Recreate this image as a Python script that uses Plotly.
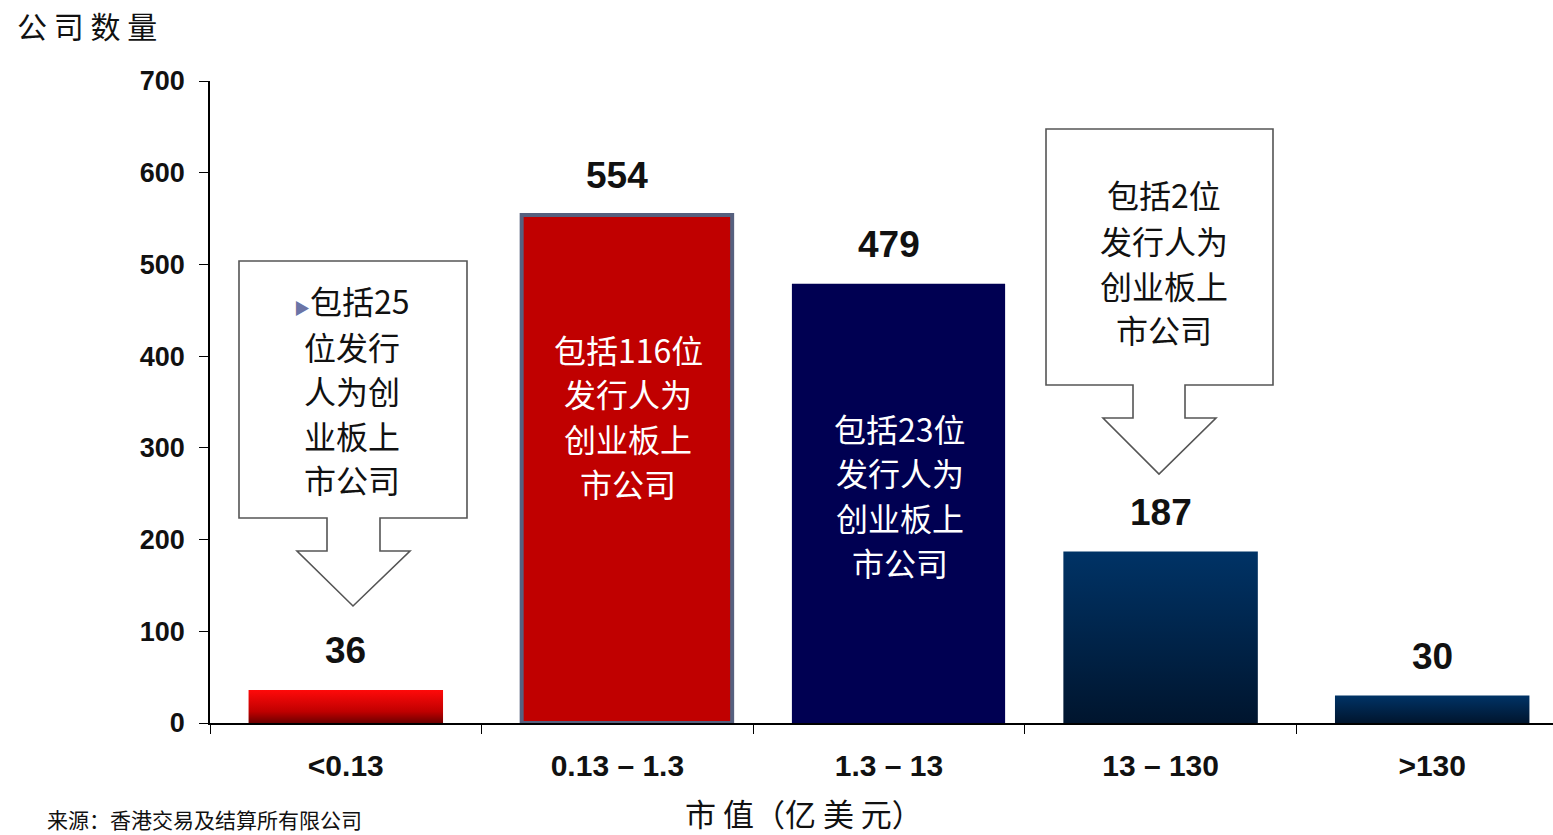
import plotly.graph_objects as go

# Market-cap buckets (USD 100m) and number of listed companies in each
categories = ["<0.13", "0.13 – 1.3", "1.3 – 13", "13 – 130", ">130"]
company_counts = [36, 554, 479, 187, 30]

# Callout / in-bar notes on GEM-listed issuers
note_small = ["包括25", "位发行", "人为创", "业板上", "市公司"]
note_mid = ["包括116位", "发行人为", "创业板上", "市公司"]
note_large = ["包括23位", "发行人为", "创业板上", "市公司"]
note_big = ["包括2位", "发行人为", "创业板上", "市公司"]

y_ticks = [0, 100, 200, 300, 400, 500, 600, 700]

W, H = 1553, 835
L, R, T, B = 210, 0, 81, 112
PW, PH = W - L - R, H - T - B
SLOT = 271.6  # pixel width of one category slot

CJK = "Noto Sans CJK SC"
LAT = "Liberation Sans"


def paper(px, py):
    return (px - L) / PW, (H - B - py) / PH


def bar_poly(i, v, w):
    x0, x1 = i - w / 2, i + w / 2
    return [x0, x1, x1, x0, x0], [0, 0, v, v, 0]


fig = go.Figure()

# gradient bars (1st, 4th, 5th)
gradient = {
    0: [[0, "#6e0000"], [0.35, "#c00000"], [1, "#ff0a0a"]],
    3: [[0, "#00152e"], [1, "#003366"]],
    4: [[0, "#00152e"], [1, "#003366"]],
}
for i, cs in gradient.items():
    xs, ys = bar_poly(i, company_counts[i], 0.716)
    fig.add_trace(go.Scatter(
        x=xs, y=ys, mode="lines", fill="toself",
        line=dict(width=0, color="rgba(0,0,0,0)"),
        fillgradient=dict(type="vertical", colorscale=cs),
        hoverinfo="skip", showlegend=False,
    ))

# solid bars (2nd, 3rd)
fig.add_trace(go.Bar(
    x=[1 + 0.035], y=[company_counts[1]], width=0.775,
    marker=dict(color="#c00000", line=dict(color="#56607e", width=4)),
    showlegend=False,
))
fig.add_trace(go.Bar(
    x=[2 + 0.035], y=[company_counts[2]], width=0.785,
    marker=dict(color="#000052", line=dict(width=0)),
    showlegend=False,
))

# value labels above bars
for i, v in enumerate(company_counts):
    fig.add_annotation(
        x=i, y=v, xref="x", yref="y",
        text=f"<b>{v}</b>", showarrow=False, yshift=39, yanchor="middle",
        font=dict(family=LAT, size=37, color="#111111"),
    )


def arrow_callout(box, stem, head, tip):
    (bx0, by0, bx1, by1) = box
    (sx0, sx1, sy1) = stem
    (hx0, hx1) = head
    (tx, ty) = tip
    pts = [(bx0, by0), (bx1, by0), (bx1, by1), (sx1, by1), (sx1, sy1),
           (hx1, sy1), (tx, ty), (hx0, sy1), (sx0, sy1), (sx0, by1),
           (bx0, by1)]
    path = ""
    for k, (px, py) in enumerate(pts):
        xp, yp = paper(px, py)
        path += ("M" if k == 0 else "L") + f"{xp:.5f},{yp:.5f} "
    return dict(type="path", path=path + "Z", xref="paper", yref="paper",
                line=dict(color="#555555", width=1.6), fillcolor="white",
                layer="above")


fig.add_shape(arrow_callout((239, 261, 467, 518), (327, 380, 551), (297, 410), (353, 606)))
fig.add_shape(arrow_callout((1046, 129, 1273, 385), (1133, 1185, 418), (1103, 1216), (1159, 474)))


def text_lines(lines, cx, ys, color, size=32):
    for line, py in zip(lines, ys):
        xp, yp = paper(cx, py)
        fig.add_annotation(
            x=xp, y=yp, xref="paper", yref="paper", text=line,
            showarrow=False, xanchor="center", yanchor="middle",
            font=dict(family=CJK, size=size, color=color),
        )


small_lines = ['<span style="color:#6b74a6;font-size:16px">▶</span>' + note_small[0]] + note_small[1:]
text_lines(small_lines, 352, [300, 346, 390, 435, 479], "#111111")
text_lines(note_mid, 628, [349, 393, 438, 483], "white")
text_lines(note_large, 900, [428, 472, 517, 562], "white")
text_lines(note_big, 1164, [194, 240, 285, 329], "#111111")

# titles
fig.add_annotation(x=paper(15, 0)[0], y=paper(0, 25)[1], xref="paper", yref="paper",
                   text="公 司 数 量", showarrow=False, xanchor="left", yanchor="middle",
                   font=dict(family=CJK, size=30, color="#111111"))
fig.add_annotation(x=paper(804, 0)[0], y=paper(0, 813)[1], xref="paper", yref="paper",
                   text="市 值（亿 美 元）", showarrow=False, xanchor="center", yanchor="middle",
                   font=dict(family=CJK, size=31, color="#111111"))
fig.add_annotation(x=paper(45, 0)[0], y=paper(0, 819)[1], xref="paper", yref="paper",
                   text="来源：香港交易及结算所有限公司", showarrow=False, xanchor="left", yanchor="middle",
                   font=dict(family=CJK, size=21, color="#111111"))

fig.update_layout(
    width=W, height=H,
    margin=dict(l=L, r=R, t=T, b=B, pad=0),
    paper_bgcolor="white", plot_bgcolor="white",
    showlegend=False, barmode="overlay",
    xaxis=dict(
        range=[-0.5, -0.5 + PW / SLOT], tickmode="array",
        tickvals=list(range(len(categories))),
        ticktext=[f"<b>{c}</b>" for c in categories],
        ticks="", showgrid=False, zeroline=False,
        showline=True, linecolor="black", linewidth=1.5,
        tickfont=dict(family=LAT, size=30, color="#111111"),
        ticklabelstandoff=15,
        minor=dict(tickmode="array", tickvals=[k - 0.5 for k in range(len(categories) + 1)],
                   ticks="outside", ticklen=9, tickwidth=1.2, tickcolor="black", showgrid=False),
    ),
    yaxis=dict(
        range=[0, 700], tickmode="array", tickvals=y_ticks,
        ticktext=[f"<b>{t}</b>" for t in y_ticks],
        ticks="outside", ticklen=9, tickwidth=1.2, tickcolor="black",
        showgrid=False, zeroline=False,
        showline=True, linecolor="black", linewidth=1.5,
        tickfont=dict(family=LAT, size=27, color="#111111"),
        ticklabelstandoff=9,
    ),
)

fig.write_html("out.html")
